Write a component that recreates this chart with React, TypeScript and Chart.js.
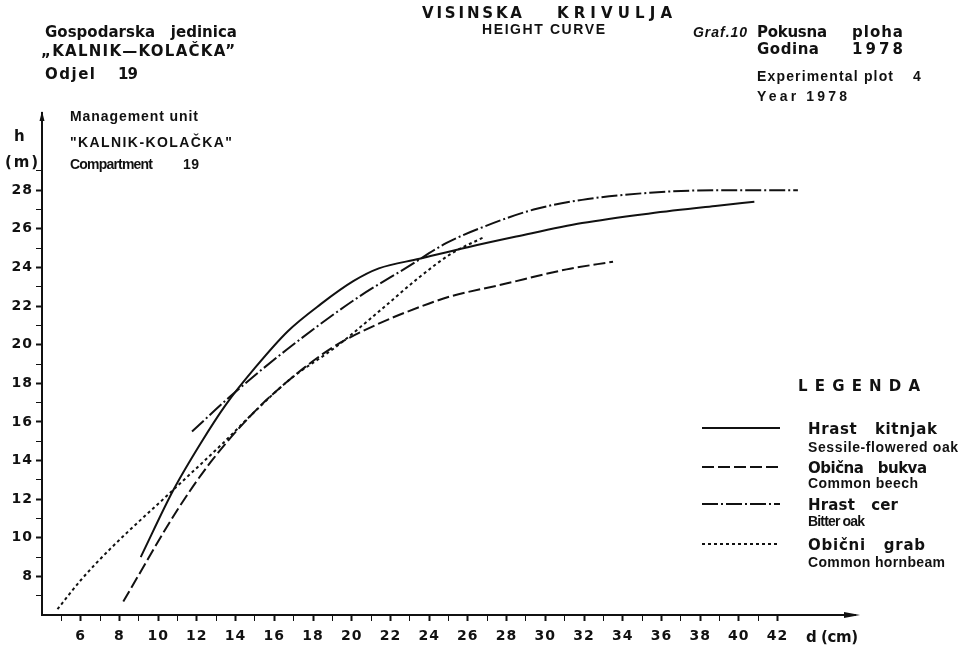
import React, { useEffect, useRef } from 'react';
import { Chart, registerables } from 'chart.js';
Chart.register(...registerables);

// ---- data (diameter d in cm, height h in m) ----
const kitnjakD = [9.1, 10.8, 12.2, 13.5, 15.0, 16.7, 18.4, 20.1, 21.4, 23.5, 26.0, 28.5, 31.9, 35.4, 38.9, 40.8];
const kitnjakH = [9.0, 12.5, 14.9, 16.9, 18.8, 20.7, 22.1, 23.3, 23.95, 24.45, 25.05, 25.6, 26.3, 26.8, 27.2, 27.4];

const bukvaD = [8.2, 11.0, 12.7, 14.9, 16.8, 19.0, 21.2, 23.5, 25.1, 27.7, 31.1, 33.5];
const bukvaH = [6.7, 11.45, 13.9, 16.45, 18.2, 19.85, 21.0, 21.95, 22.5, 23.1, 23.9, 24.3];

const cerD = [11.75, 13.7, 16.65, 20.4, 22.85, 24.9, 26.8, 29.4, 31.9, 35.4, 38.9, 43.05];
const cerH = [15.5, 17.3, 19.75, 22.5, 24.0, 25.27, 26.1, 27.0, 27.5, 27.87, 28.0, 28.0];

const grabD = [4.8, 6.0, 7.5, 10.8, 13.35, 14.9, 16.8, 19.2, 21.5, 23.5, 25.2, 26.9];
const grabH = [6.3, 7.8, 9.4, 12.5, 14.9, 16.45, 18.2, 19.9, 21.8, 23.5, 24.75, 25.6];

const xTickLabels = [6, 8, 10, 12, 14, 16, 18, 20, 22, 24, 26, 28, 30, 32, 34, 36, 38, 40, 42];
const yTickLabels = [8, 10, 12, 14, 16, 18, 20, 22, 24, 26, 28];

const seriesHr = ['Hrast   kitnjak', 'Obična   bukva', 'Hrast   cer', 'Obični   grab'];
const seriesEn = ['Sessile-flowered oak', 'Common beech', 'Bitter oak', 'Common hornbeam'];

// ---- styles ----
const DASH_KITNJAK: number[] = [];
const DASH_BUKVA = [12, 4];
const DASH_CER = [16, 3, 2, 3];
const DASH_GRAB = [3, 3];
const DASHES = [DASH_KITNJAK, DASH_BUKVA, DASH_CER, DASH_GRAB];

const FH = '"DejaVu Sans", sans-serif';
const FE = '"Liberation Sans", Arial, sans-serif';

type T = [string, number, number, number, string];
// text, left x, center y, width (0 = natural), font
const texts: T[] = [
  ['Gospodarska   jedinica', 45, 33, 192, `bold 15px ${FH}`],
  ['„KALNIK—KOLAČKA”', 41, 52, 194, `bold 15px ${FH}`],
  ['Odjel', 45, 75, 50, `bold 15px ${FH}`],
  ['19', 118, 75, 20, `bold 15px ${FH}`],
  ['Management unit', 70, 117, 128, `bold 14px ${FE}`],
  ['"KALNIK-KOLAČKA"', 70, 143, 162, `bold 14px ${FE}`],
  ['Compartment', 70, 165, 83, `bold 14px ${FE}`],
  ['19', 183, 165, 16, `bold 14px ${FE}`],
  ['h', 14, 137, 0, `bold 15px ${FH}`],
  ['(m)', 5, 163, 33, `bold 15px ${FH}`],
  ['VISINSKA', 422, 14, 100, `bold 15px ${FH}`],
  ['KRIVULJA', 557, 14, 115, `bold 15px ${FH}`],
  ['HEIGHT CURVE', 482, 30, 123, `bold 14px ${FE}`],
  ['Graf.10', 693, 33, 54, `italic bold 14px ${FE}`],
  ['Pokusna', 757, 33, 70, `bold 15px ${FH}`],
  ['ploha', 852, 33, 51, `bold 15px ${FH}`],
  ['Godina', 757, 50, 62, `bold 15px ${FH}`],
  ['1978', 852, 50, 51, `bold 15px ${FH}`],
  ['Experimental plot', 757, 77, 136, `bold 14px ${FE}`],
  ['4', 913, 77, 0, `bold 14px ${FE}`],
  ['Year 1978', 757, 97, 90, `bold 14px ${FE}`],
  ['LEGENDA', 798, 387, 122, `bold 15px ${FH}`],
  ['d (cm)', 806, 638, 52, `bold 15px ${FH}`],
];

const legendY = [428, 467, 504, 544];
const legendEnY = [448, 484, 522, 563];
const legendWidthHr = [129, 119, 90, 117];
const legendWidthEn = [150, 110, 57, 137];

function drawFit(ctx: CanvasRenderingContext2D, text: string, x: number, y: number, w: number, font: string) {
  ctx.font = font;
  (ctx as any).letterSpacing = '0px';
  if (w > 0 && text.length > 1) {
    const m = ctx.measureText(text).width;
    const ls = Math.max(-1.5, (w - m) / (text.length - 1));
    (ctx as any).letterSpacing = ls.toFixed(2) + 'px';
  }
  ctx.fillText(text, x, y);
  (ctx as any).letterSpacing = '0px';
}

const decorPlugin = {
  id: 'decor',
  beforeDraw(chart: any) {
    (chart.ctx as any).letterSpacing = '1px';
  },
  afterDraw(chart: any) {
    const ctx: CanvasRenderingContext2D = chart.ctx;
    (ctx as any).letterSpacing = '0px';
    const area = chart.chartArea;
    ctx.save();
    ctx.fillStyle = '#111';
    ctx.strokeStyle = '#111';
    ctx.textBaseline = 'middle';
    ctx.textAlign = 'left';
    for (const [s, x, y, w, f] of texts) drawFit(ctx, s, x, y, w, f);

    // legend samples and names
    for (let i = 0; i < 4; i++) {
      ctx.setLineDash(DASHES[i]);
      ctx.lineWidth = 2;
      ctx.beginPath();
      ctx.moveTo(702, legendY[i]);
      ctx.lineTo(780, legendY[i]);
      ctx.stroke();
      ctx.setLineDash([]);
      drawFit(ctx, seriesHr[i], 808, legendY[i] + 2, legendWidthHr[i], `bold 15px ${FH}`);
      drawFit(ctx, seriesEn[i], 808, legendEnY[i], legendWidthEn[i], `bold 14px ${FE}`);
    }

    // axis extensions and arrow heads
    ctx.lineWidth = 2;
    ctx.beginPath();
    ctx.moveTo(area.right, area.bottom);
    ctx.lineTo(850, area.bottom);
    ctx.stroke();
    ctx.beginPath();
    ctx.moveTo(860, area.bottom);
    ctx.lineTo(844, area.bottom - 3);
    ctx.lineTo(844, area.bottom + 3);
    ctx.closePath();
    ctx.fill();
    ctx.beginPath();
    ctx.moveTo(area.left, area.top - 2);
    ctx.lineTo(area.left - 2.5, area.top + 8);
    ctx.lineTo(area.left + 2.5, area.top + 8);
    ctx.closePath();
    ctx.fill();
    ctx.restore();
  },
};

function pts(d: number[], h: number[]) {
  return d.map((x, i) => ({ x, y: h[i] }));
}

export default function App() {
  const ref = useRef<HTMLCanvasElement | null>(null);
  useEffect(() => {
    if (!ref.current) return;
    const common = {
      borderColor: '#111',
      borderWidth: 2,
      pointRadius: 0,
      fill: false,
      cubicInterpolationMode: 'monotone' as const,
    };
    const chart = new Chart(ref.current, {
      type: 'line',
      data: {
        datasets: [
          { ...common, label: seriesHr[0], data: pts(kitnjakD, kitnjakH), borderDash: DASH_KITNJAK },
          { ...common, label: seriesHr[1], data: pts(bukvaD, bukvaH), borderDash: DASH_BUKVA },
          { ...common, label: seriesHr[2], data: pts(cerD, cerH), borderDash: DASH_CER },
          { ...common, label: seriesHr[3], data: pts(grabD, grabH), borderDash: DASH_GRAB },
        ],
      },
      options: {
        responsive: false,
        animation: false,
        layout: { padding: { top: 113, right: 110, left: 0, bottom: 0 } },
        plugins: { legend: { display: false }, tooltip: { enabled: false } },
        scales: {
          x: {
            type: 'linear',
            min: 4,
            max: 46,
            afterFit: (s: any) => { s.height = 42; },
            border: { display: true, color: '#111', width: 2 },
            grid: {
              drawOnChartArea: false,
              drawTicks: true,
              tickLength: 6,
              tickColor: (c: any) => (c.tick && c.tick.value >= 5 && c.tick.value <= 42 ? '#111' : 'rgba(0,0,0,0)'),
              tickWidth: (c: any) => (c.tick && c.tick.value % 2 === 0 ? 2 : 1),
            },
            ticks: {
              stepSize: 1,
              maxTicksLimit: 200,
              autoSkip: false,
              maxRotation: 0,
              padding: 7,
              color: '#111',
              font: { family: 'DejaVu Sans', weight: 'bold', size: 14 },
              callback: (v: any) => (xTickLabels.includes(Number(v)) ? String(v) : ''),
            },
          },
          y: {
            type: 'linear',
            min: 6,
            max: 32,
            afterFit: (s: any) => { s.width = 42; },
            border: { display: true, color: '#111', width: 2 },
            grid: {
              drawOnChartArea: false,
              drawTicks: true,
              tickLength: 6,
              tickColor: (c: any) => (c.tick && c.tick.value >= 7 && c.tick.value <= 29 ? '#111' : 'rgba(0,0,0,0)'),
              tickWidth: (c: any) => (c.tick && c.tick.value % 2 === 0 ? 2 : 1),
            },
            ticks: {
              stepSize: 1,
              maxTicksLimit: 200,
              autoSkip: false,
              padding: 3,
              color: '#111',
              font: { family: 'DejaVu Sans', weight: 'bold', size: 14 },
              callback: (v: any) => (yTickLabels.includes(Number(v)) ? String(v) : ''),
            },
          },
        },
      },
      plugins: [decorPlugin],
    } as any);
    return () => chart.destroy();
  }, []);
  return (
    <div style={{ position: 'absolute', left: 0, top: 0, width: 965, height: 657, background: '#fff' }}>
      <canvas ref={ref} width={965} height={657} style={{ width: 965, height: 657, display: 'block' }} />
    </div>
  );
}
